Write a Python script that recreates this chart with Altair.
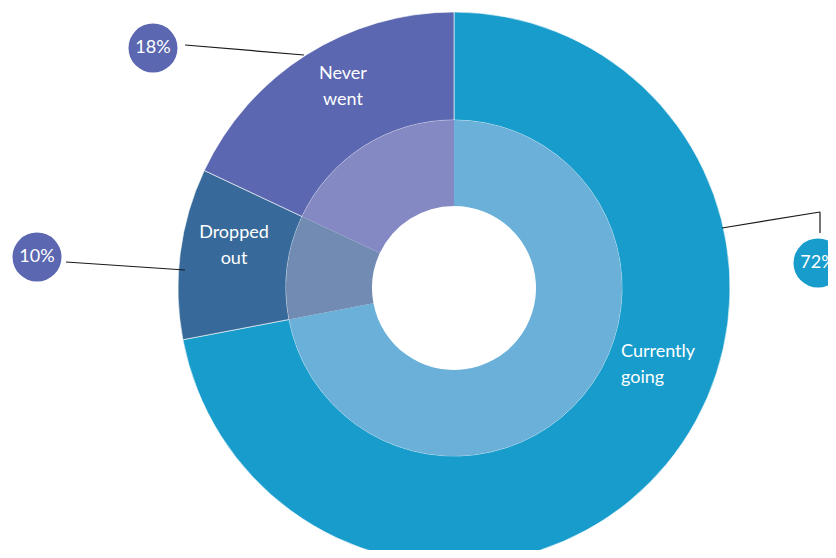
import altair as alt
import pandas as pd

# data
categories = ["Currently going", "Dropped out", "Never went"]
values = [72, 10, 18]
pct_labels = ["72%", "10%", "18%"]
outer_colors = ["#179CCB", "#376A9A", "#5B67B0"]
inner_colors = ["#6AB0D8", "#718BB3", "#8489C3"]
badge_colors = ["#179CCB", "#5B67B0", "#5B67B0"]
slice_text = ["Currently\ngoing", "Dropped\nout", "Never\nwent"]

# layout (pixel coordinates inside the chart)
OFF = 8
CX, CY = 454 - OFF, 288 - OFF
R_OUT, R_MID, R_IN = 276, 168, 82

df = pd.DataFrame({
    "category": categories,
    "value": values,
    "ord": list(range(len(categories))),
    "outer": outer_colors,
    "inner": inner_colors,
})

outer = alt.Chart(df).mark_arc(
    radius=R_OUT, radius2=R_MID, stroke="white", strokeWidth=0.6
).encode(
    theta=alt.Theta("value:Q", stack=True),
    order=alt.Order("ord:Q"),
    color=alt.Color("outer:N", scale=None),
    x=alt.value(CX), y=alt.value(CY),
)

inner = alt.Chart(df).mark_arc(
    radius=R_MID, radius2=R_IN
).encode(
    theta=alt.Theta("value:Q", stack=True),
    order=alt.Order("ord:Q"),
    color=alt.Color("inner:N", scale=None),
    x=alt.value(CX), y=alt.value(CY),
)

# slice labels (y = first line)
lab = pd.DataFrame({
    "text": slice_text,
    "x": [621 - OFF, 234 - OFF, 343 - OFF],
    "y": [352 - OFF, 233 - OFF, 74 - OFF],
    "align": ["left", "center", "center"],
})
lab_left = alt.Chart(lab[lab["align"] == "left"]).mark_text(
    align="left", baseline="middle", color="white", fontSize=18,
    font="Lato", lineBreak="\n", lineHeight=26
).encode(x=alt.X("x:Q", scale=None), y=alt.Y("y:Q", scale=None), text="text:N")
lab_center = alt.Chart(lab[lab["align"] == "center"]).mark_text(
    align="center", baseline="middle", color="white", fontSize=18,
    font="Lato", lineBreak="\n", lineHeight=26
).encode(x=alt.X("x:Q", scale=None), y=alt.Y("y:Q", scale=None), text="text:N")

# leader lines
segs = pd.DataFrame({
    "x": [722, 820, 66, 185],
    "y": [228, 212, 262, 45],
    "x2": [820, 820, 185, 304],
    "y2": [212, 233, 270, 55],
})
for c in ["x", "y", "x2", "y2"]:
    segs[c] = segs[c] - OFF
rules = alt.Chart(segs).mark_rule(color="#1a1a1a", strokeWidth=1.2).encode(
    x=alt.X("x:Q", scale=None), y=alt.Y("y:Q", scale=None),
    x2="x2:Q", y2="y2:Q",
)

badges = pd.DataFrame({
    "text": pct_labels,
    "color": badge_colors,
    "x": [818 - OFF, 37 - OFF, 153 - OFF],
    "y": [263 - OFF, 257 - OFF, 48 - OFF],
})
badge_pts = alt.Chart(badges).mark_point(filled=True, opacity=1, size=2400, shape="circle").encode(
    x=alt.X("x:Q", scale=None), y=alt.Y("y:Q", scale=None),
    color=alt.Color("color:N", scale=None),
)
badge_txt = alt.Chart(badges).mark_text(
    color="white", fontSize=18, font="Lato", align="center", baseline="middle"
).encode(
    x=alt.X("x:Q", scale=None), y=alt.Y("y:Q", scale=None), text="text:N"
)

chart = alt.layer(outer, inner, rules, lab_left, lab_center, badge_pts, badge_txt).properties(
    width=820, height=542, padding=0, autosize=alt.AutoSizeParams(type="none"),
).configure_view(stroke=None)

chart.save("out.html", embed_options={"renderer": "svg", "actions": False})
